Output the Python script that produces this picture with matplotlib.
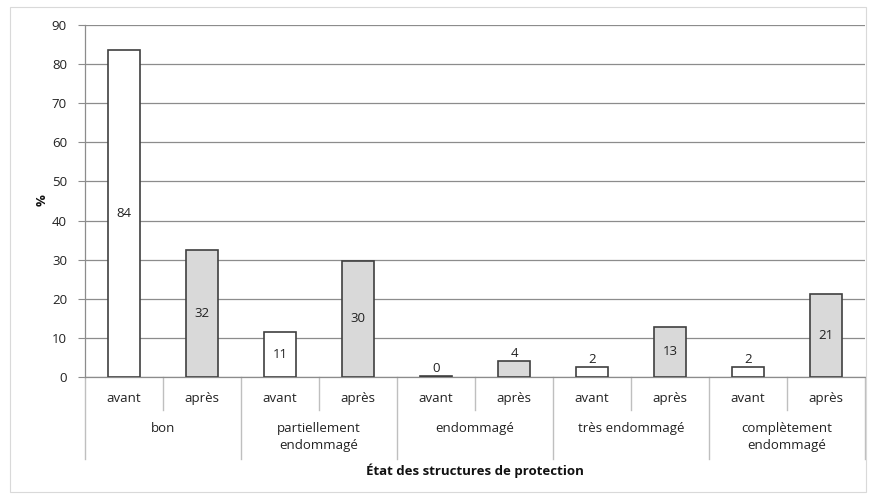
import matplotlib
matplotlib.use("Agg")
import matplotlib.pyplot as plt
from matplotlib.patches import Rectangle
import matplotlib.transforms as mtransforms

groups = ["bon", "partiellement\nendommagé", "endommagé", "très endommagé", "complètement\nendommagé"]
periods = ["avant", "après"]
avant = [83.6, 11.5, 0.3, 2.5, 2.5]
apres = [32.5, 29.7, 4.1, 12.8, 21.2]
avant_labels = ["84", "11", "0", "2", "2"]
apres_labels = ["32", "30", "4", "13", "21"]
y_ticks = [0, 10, 20, 30, 40, 50, 60, 70, 80, 90]

plt.rcParams['font.family'] = ['Open Sans', 'DejaVu Sans']

fig = fig = plt.figure(figsize=(8.69, 4.97), dpi=100)
fig.patches.append(Rectangle((0.011, 0.01), 0.985, 0.975, transform=fig.transFigure,
                             fill=False, edgecolor='#d9d9d9', linewidth=0.8))
ax = fig.add_axes([85/869, 1-377/497, 780/869, 352/497])

grid_c = '#8c8c8c'
for i in range(len(groups)):
    xa, xb = 2*i, 2*i+1
    for x, v, lab, col in [(xa, avant[i], avant_labels[i], 'white'), (xb, apres[i], apres_labels[i], '#d9d9d9')]:
        ax.bar(x, v, width=0.41, color=col, edgecolor='#404040', linewidth=1.2, zorder=3)
        if v > 8:
            ax.text(x, v/2, lab, ha='center', va='center', fontsize=9.5, color='#222222', zorder=4)
        else:
            ax.text(x, v + 0.3, lab, ha='center', va='bottom', fontsize=9.5, color='#222222', zorder=4)

ax.set_xlim(-0.5, 2*len(groups)-0.5)
ax.set_ylim(0, 90)
ax.set_yticks(y_ticks)
ax.set_yticklabels([str(t) for t in y_ticks], fontsize=9.5, color='#222222')
ax.yaxis.grid(True, color=grid_c, linewidth=0.9, zorder=0)
ax.set_axisbelow(True)
ax.tick_params(axis='y', length=5, color=grid_c, pad=8)
ax.set_xticks([])
for s in ['top', 'right']:
    ax.spines[s].set_visible(False)
ax.spines['left'].set_color(grid_c)
ax.spines['bottom'].set_color(grid_c)
ax.spines['left'].set_linewidth(0.9)
ax.spines['bottom'].set_linewidth(0.9)

trans = mtransforms.blended_transform_factory(ax.transData, ax.transAxes)
sep_c = '#bfbfbf'
n = 2*len(groups)
for k in range(n+1):
    xs = k - 0.5
    y_end = -0.233 if k % 2 == 0 else -0.094
    ax.plot([xs, xs], [0, y_end], transform=trans, color=sep_c, linewidth=1.0, clip_on=False)
for k in range(n):
    ax.text(k, -0.061, periods[k % 2], transform=trans, ha='center', va='center', fontsize=9.5, color='#222222')
for i, g in enumerate(groups):
    ax.text(2*i + 0.5, -0.128, g, transform=trans, ha='center', va='top', fontsize=9.5,
            color='#222222', linespacing=1.4)

ax.text(0.5, -0.267, "État des structures de protection", transform=ax.transAxes, ha='center', va='center',
        fontsize=9.5, fontweight='bold', color='#111111')
fig.text(42/869, 1-200/497, "%", rotation=90, ha='center', va='center', fontsize=9.5, fontweight='bold', color='#111111')

fig.savefig("out.png", dpi=100)
